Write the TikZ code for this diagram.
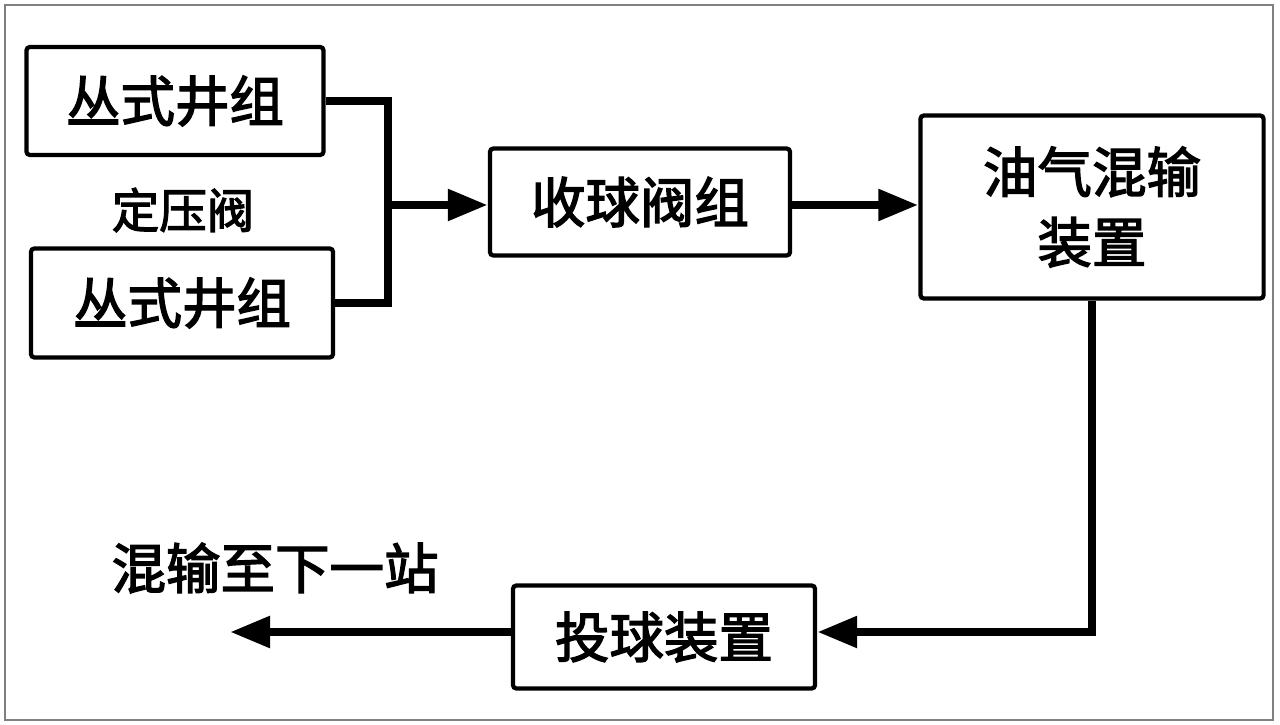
\documentclass[tikz,border=0pt]{standalone}
\usepackage{fontspec}
\newfontfamily\cjk{Noto Sans CJK SC}[FakeBold=2.5]
\usetikzlibrary{arrows.meta}

\tikzset{
  unit/.style={draw, line width=1.2pt, rounded corners=1pt, font=\cjk\fontsize{15.5}{18}\selectfont},
  pipe/.style={line width=2.4pt},
  flow/.style={pipe, -{Triangle[length=0.4cm, width=0.3cm]}}
}

\begin{document}
\begin{tikzpicture}[x=0.01cm, y=-0.01cm]
  \useasboundingbox (0,0) rectangle (1280,725);
  \draw [gray, line width=0.7pt] (5,5) rectangle (1273,720);

  \node [unit, minimum width=2.97cm, minimum height=1.08cm] (wellA)  at (175,101) {丛式井组};
  \node [unit, minimum width=3.02cm, minimum height=1.09cm] (wellB)  at (182,303) {丛式井组};
  \node [font=\cjk\fontsize{13.5}{16}\selectfont] (relief) at (183,210) {定压阀};
  \node [unit, minimum width=3.00cm, minimum height=1.07cm] (valve)  at (640,202) {收球阀组};
  \node [unit, minimum width=3.43cm, minimum height=1.83cm, align=center] (mix) at (1092,207) {油气混输\\[2pt]装置};
  \node [unit, minimum width=3.02cm, minimum height=1.03cm] (launch) at (664,637) {投球装置};
  \node [font=\cjk\fontsize{15.5}{18}\selectfont] (next) at (275,568) {混输至下一站};

  \coordinate (jn)  at (388,205);
  \coordinate (out) at (230,632);

  \draw [pipe] (wellA.east) -| (jn) |- (wellB.east);
  \draw [flow] (jn) -- (jn -| valve.west);
  \draw [flow] (valve.east |- jn) -- (jn -| mix.west);
  \draw [flow] (mix.south) |- (launch.east |- out);
  \draw [flow] (launch.west |- out) -- (out);
\end{tikzpicture}
\end{document}
